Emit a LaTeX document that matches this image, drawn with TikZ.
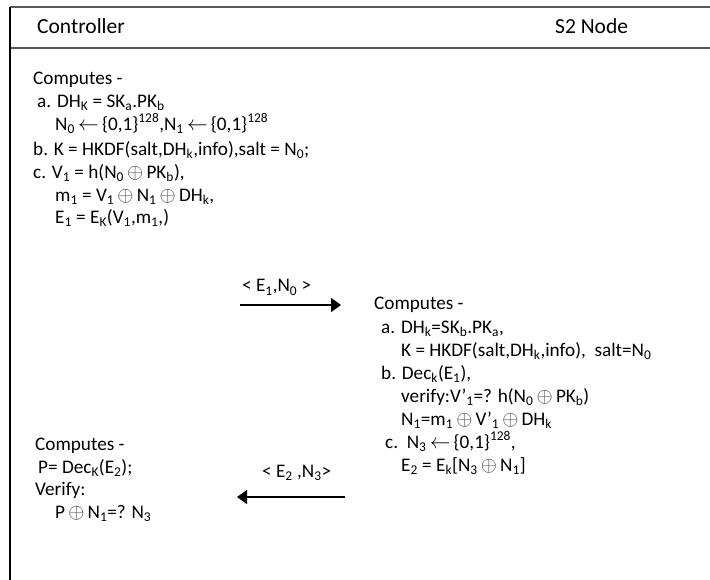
\documentclass[tikz,border=0pt]{standalone}
\usepackage{fontspec}
\setmainfont{Carlito}
\usetikzlibrary{arrows.meta}
\newcommand\sbs[1]{\textsubscript{#1}}
\newcommand\sps[1]{\textsuperscript{#1}}
\newcommand\xo{\,{\color{black!75}$\oplus$}\,}
\newcommand\getsarrow{\,$\leftarrow$\,}
\newcommand\firstline{\rule{0pt}{14pt}}
\newcommand\ind[1]{\hspace*{#1pt}}
\begin{document}
\begin{tikzpicture}[x=1pt,y=-1pt,
  txt/.style={anchor=base west,inner sep=0pt,font=\fontsize{19.2}{23}\selectfont},
  block/.style={anchor=north west,inner sep=0pt,align=left,
    font={\fontsize{19.2}{23}\selectfont\lineskiplimit=-30pt}},
  head/.style={anchor=base west,inner sep=0pt,font=\fontsize{21.5}{25}\selectfont},
  frameline/.style={line width=2pt,draw=black!65},
  msg/.style={line width=1.6pt,-{Triangle[length=10pt,width=14pt]}}]
\useasboundingbox (0,0) rectangle (710,580);
% frame of the lanes
\draw[frameline] (10,7) -- (710,7);
\draw[frameline] (10,48) -- (710,48);
\draw[line width=2pt] (10,7) -- (10,580);
% lane headings
\node[head] (hc) at (37,34) {Controller};
\node[head] (hs) at (555,34) {S2 Node};
% controller: first computation (first baseline at y=84)
\node[block] (cfirst) at (33,70) {\firstline Computes -\\
  \ind{4}a. DH\sbs{K} = SK\sbs{a}.PK\sbs{b}\\
  \ind{22}N\sbs{0}\getsarrow\{0,1\}\sps{128},N\sbs{1}\getsarrow\{0,1\}\sps{128}\\[2pt]
  b. K = HKDF(salt,DH\sbs{k},info),salt = N\sbs{0};\\
  c. V\sbs{1} = h(N\sbs{0}\xo PK\sbs{b}),\\
  \ind{22}m\sbs{1} = V\sbs{1}\xo N\sbs{1}\xo DH\sbs{k},\\[-1pt]
  \ind{22}E\sbs{1} = E\sbs{K}(V\sbs{1},m\sbs{1},)};
% first message
\coordinate (m1s) at (240,305);
\coordinate (m1e) at (341,305);
\draw[msg] (m1s) -- (m1e);
\node[txt] (m1l) at (242,292) {< E\sbs{1},N\sbs{0} >};
% S2 node computation (first baseline at y=309)
\node[block] (snode) at (374,295) {\firstline Computes -\\[1pt]
  \ind{7}a. DH\sbs{k}=SK\sbs{b}.PK\sbs{a},\\
  \ind{27}K = HKDF(salt,DH\sbs{k},info),\ \ salt=N\sbs{0}\\
  \ind{7}b. Dec\sbs{k}(E\sbs{1}),\\
  \ind{27}verify:V'\sbs{1}=? h(N\sbs{0}\xo PK\sbs{b})\\
  \ind{27}N\sbs{1}=m\sbs{1}\xo V'\sbs{1}\xo DH\sbs{k}\\
  \ind{11}c.\ \ N\sbs{3}\getsarrow\{0,1\}\sps{128},\\
  \ind{27}E\sbs{2} = E\sbs{k}[N\sbs{3}\xo N\sbs{1}]};
% second message
\coordinate (m2s) at (345,497);
\coordinate (m2e) at (237,497);
\draw[msg] (m2s) -- (m2e);
\node[txt] (m2l) at (262,477) {< E\sbs{2} ,N\sbs{3}>};
% controller: final check (first baseline at y=450)
\node[block] (ccheck) at (35,436) {\firstline Computes -\\
  \ind{3}P= Dec\sbs{K}(E\sbs{2});\\[-1pt]
  Verify:\\
  \ind{20}P\xo N\sbs{1}=? N\sbs{3}};
\end{tikzpicture}
\end{document}
